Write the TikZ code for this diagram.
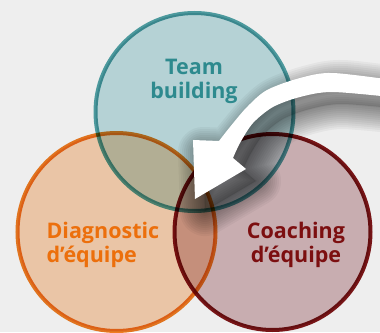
\documentclass[tikz,border=0pt]{standalone}
\usepackage{fontspec}
\setmainfont{Open Sans}
\usetikzlibrary{positioning}

\definecolor{bgGrey}{HTML}{EEEEEE}
\definecolor{teamLine}{HTML}{52A4A9}
\definecolor{teamFill}{HTML}{C2E2E5}
\definecolor{teamText}{HTML}{2E8A8E}
\definecolor{diagLine}{HTML}{F07D22}
\definecolor{diagFill}{HTML}{FBD4B2}
\definecolor{diagText}{HTML}{EC6F0C}
\definecolor{coachLine}{HTML}{801618}
\definecolor{coachFill}{HTML}{D7BABD}
\definecolor{coachText}{HTML}{7C0F10}

% shape of the big white arrow (pixel coordinates)
\newcommand{\arrowshape}{plot[smooth] coordinates {(400,81) (333,73) (300,78) (267,90) (247,107) (230,127) (219,141)}
  -- (193,140) -- (195,199) -- (246,169) -- (233,158)
  -- plot[smooth] coordinates {(233,158) (240,143) (253,123) (273,107) (300,97) (333,92) (400,98)} -- cycle}

\begin{document}
\begin{tikzpicture}[x=1pt,y=-1pt,
  ring/.style={line width=4pt},
  label/.style={font=\fontsize{21.5}{24}\selectfont\bfseries}]
% Background
\fill[bgGrey] (0,0) rectangle (380,332);
\useasboundingbox (0,0) rectangle (380,332);
\clip (0,0) rectangle (380,332);

% Draw the three circles
\begin{scope}[blend mode=multiply]
\filldraw[ring, draw=teamLine, fill=teamFill] (194.5,112) circle (99);
\filldraw[ring, draw=diagLine, fill=diagFill] (116.5,232) circle (99);
\filldraw[ring, draw=coachLine, fill=coachFill] (272.5,232) circle (98);
\end{scope}

% Shadow of the arrow
\fill[black, opacity=0.12, shift={(10,12)}] \arrowshape;
\foreach \w in {50,46,...,2}
  \draw[black, opacity=0.04, line width=\w pt, line join=round, shift={(10,12)}] \arrowshape;

% Draw the arrow
\fill[white] \arrowshape;

% Labels
\node[label, teamText, align=center] (team) at (194,81) {Team\\building};
\node[label, diagText, align=left, anchor=west] (diag) at (43,245) {Diagnostic\\d’équipe};
\node[label, coachText, align=center] (coach) at (296,245) {Coaching\\d’équipe};
\end{tikzpicture}
\end{document}
